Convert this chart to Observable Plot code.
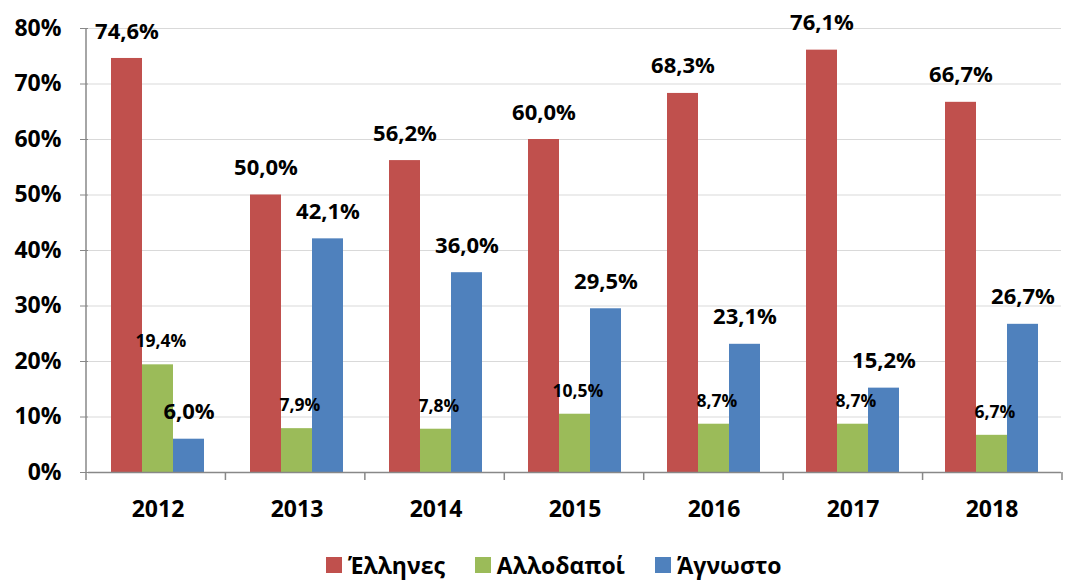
<!DOCTYPE html>
<html>
<head>
<meta charset="utf-8">
<script src="https://cdn.jsdelivr.net/npm/d3@7"></script>
<script src="https://cdn.jsdelivr.net/npm/@observablehq/plot@0.6"></script>
<style>
  html, body { margin: 0; padding: 0; background: #fff; }
  #wrap { position: relative; width: 1071px; height: 581px; overflow: hidden; font-family: "Open Sans", "Noto Sans", sans-serif; }
  #legend { position: absolute; left: 326px; top: 549px; display: flex; align-items: center; font-family: "Open Sans", "Noto Sans", sans-serif; font-weight: bold; font-size: 23px; color: #000; }
  .item { display: flex; align-items: center; margin-right: 30px; }
  .sw { width: 16px; height: 16px; margin-right: 6px; }
</style>
</head>
<body>
<div id="wrap"><div id="chart"></div><div id="legend"></div></div>
<script>
const years = ["2012", "2013", "2014", "2015", "2016", "2017", "2018"];
const series = ["Έλληνες", "Αλλοδαποί", "Άγνωστο"];
const greeks = [74.6, 50.0, 56.2, 60.0, 68.3, 76.1, 66.7];
const foreigners = [19.4, 7.9, 7.8, 10.5, 8.7, 8.7, 6.7];
const unknown = [6.0, 42.1, 36.0, 29.5, 23.1, 15.2, 26.7];
const colors = ["#C0504D", "#9BBB59", "#4F81BD"];
const yTicks = [0, 10, 20, 30, 40, 50, 60, 70, 80];

const seriesValues = [greeks, foreigners, unknown];
const data = years.flatMap((year, i) =>
  series.map((s, j) => ({ year, series: s, value: seriesValues[j][i] }))
);
const fmt = v => v.toFixed(1).replace(".", ",") + "%";
const big = data.filter(d => d.series !== series[1]);
const small = data.filter(d => d.series === series[1]);

const chart = Plot.plot({
  width: 1071,
  height: 535,
  marginLeft: 86,
  marginRight: 9,
  marginTop: 28,
  marginBottom: 63,
  style: { fontFamily: "'Open Sans', 'Noto Sans', sans-serif", fontWeight: "bold", color: "#000", background: "#fff" },
  fx: { domain: years, padding: 0, label: null, axis: null },
  x: { domain: series, paddingInner: 0, paddingOuter: 0.725, axis: null },
  y: { domain: [0, 80], axis: null },
  color: { domain: series, range: colors },
  marks: [
    Plot.gridY(yTicks, { stroke: "#d9d9d9", strokeOpacity: 1 }),
    Plot.axisY({ ticks: yTicks, tickFormat: d => d + "%", tickSize: 8, tickPadding: 19, fontSize: 23, stroke: "#888", label: null }),
    Plot.barY(data, { fx: "year", x: "series", y: "value", fill: "series" }),
    Plot.text(big, { fx: "year", x: "series", y: "value", text: d => fmt(d.value), lineAnchor: "middle", dy: -27, fontSize: 22, fontWeight: "bold", fill: "#000" }),
    Plot.text(small, { fx: "year", x: "series", y: "value", text: d => fmt(d.value), lineAnchor: "middle", dy: -23, dx: 3, fontSize: 17.5, fontWeight: "bold", fill: "#000" }),
    Plot.ruleY([0], { stroke: "#888", strokeWidth: 1.5 }),
    Plot.axisFx({ anchor: "bottom", tickSize: 0, tickPadding: 28, fontSize: 23, label: null })
  ]
});
document.getElementById("chart").appendChild(chart);

// axis line and category-boundary tick marks, from the chart's own scales
const fxs = chart.scale("fx");
const ys = chart.scale("y");
const band = d3.scaleBand().domain(fxs.domain).range(fxs.range).padding(0);
const yl = d3.scaleLinear().domain(ys.domain).range(ys.range);
const svg = d3.select(chart.tagName.toLowerCase() === "svg" ? chart : chart.querySelector("svg"));
const y0 = yl(0);
const g = svg.append("g").attr("stroke", "#888").attr("stroke-width", 1.5);
g.append("line").attr("x1", band.range()[0]).attr("x2", band.range()[0]).attr("y1", yl(80)).attr("y2", y0 + 8);
years.forEach(yr => {
  const xb = band(yr) + band.step();
  g.append("line").attr("x1", xb).attr("x2", xb).attr("y1", y0).attr("y2", y0 + 8);
});

// legend
const legend = d3.select("#legend");
series.forEach((s, i) => {
  const it = legend.append("div").attr("class", "item");
  it.append("div").attr("class", "sw").style("background", colors[i]);
  it.append("span").text(s);
});
</script>
</body>
</html>
